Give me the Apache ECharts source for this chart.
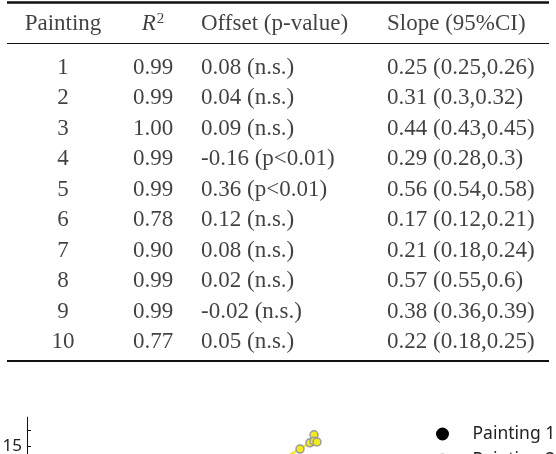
<!DOCTYPE html>
<html>
<head>
<meta charset="utf-8">
<script src="https://cdn.jsdelivr.net/npm/echarts@6/dist/echarts.min.js"></script>
<style>html,body{margin:0;padding:0;background:#fff;}#c{width:556px;height:454px;}</style>
</head>
<body>
<div id="c"></div>
<script>
// ---- table data ----
const headers = ['Painting', 'R2', 'Offset (p-value)', 'Slope (95%CI)'];
const paintingIds = ['1', '2', '3', '4', '5', '6', '7', '8', '9', '10'];
const r2Values = ['0.99', '0.99', '1.00', '0.99', '0.99', '0.78', '0.90', '0.99', '0.99', '0.77'];
const offsetValues = ['0.08 (n.s.)', '0.04 (n.s.)', '0.09 (n.s.)', '-0.16 (p<0.01)', '0.36 (p<0.01)',
  '0.12 (n.s.)', '0.08 (n.s.)', '0.02 (n.s.)', '-0.02 (n.s.)', '0.05 (n.s.)'];
const slopeValues = ['0.25 (0.25,0.26)', '0.31 (0.3,0.32)', '0.44 (0.43,0.45)', '0.29 (0.28,0.3)', '0.56 (0.54,0.58)',
  '0.17 (0.12,0.21)', '0.21 (0.18,0.24)', '0.57 (0.55,0.6)', '0.38 (0.36,0.39)', '0.22 (0.18,0.25)'];

// ---- scatter plot data (partially visible) ----
const legendNames = ['Painting 1', 'Painting 2', 'Painting 3', 'Painting 4', 'Painting 5',
  'Painting 6', 'Painting 7', 'Painting 8', 'Painting 9', 'Painting 10'];
const p10X = [7.175, 7.075, 7.175, 7.25, 6.825];
const p10Y = [15.7, 15.2, 15.3, 15.25, 14.81];
const p10FitX = [6.3, 7.175];
const p10FitY = [14.02, 15.375];
const yTickValues = [14, 15, 16];
const yLabelValues = [15];

// ---- layout (not data) ----
const colAnchor = [56, 146, 194, 380];
const colPos = ['inside', 'inside', 'right', 'right'];
const headerRow = -0.4456;
const rules = [{v: -1.152, w: 2.5}, {v: 0.1786, w: 1.2}, {v: 10.626, w: 2.2}];
const serif = 'Liberation Serif';
const sans = 'Noto Sans';
const colors = ['#000000', '#dcdcdc', '#b0b0b0', '#808080', '#4c72b0', '#55a868', '#c44e52', '#8172b2', '#ccb974', '#f2ea1c'];

const columns = [paintingIds, r2Values, offsetValues, slopeValues];
const tableSeries = columns.map((col, ci) => {
  const data = [[colAnchor[ci], headerRow, headers[ci], 1]];
  col.forEach((t, ri) => data.push([colAnchor[ci], ri + 1, t, 0]));
  const s = {
    type: 'scatter', xAxisIndex: 0, yAxisIndex: 0, symbolSize: 0, silent: true,
    data: data,
    label: {
      show: true, position: colPos[ci], distance: 0,
      fontFamily: serif, fontSize: 23, color: '#111',
      formatter: p => (ci === 1 && p.value[3] === 1) ? '{it|R}{sup|2}' : p.value[2],
      rich: {
        it: {fontFamily: serif, fontSize: 23, fontStyle: 'italic', color: '#111'},
        sup: {fontFamily: serif, fontSize: 15, color: '#111', verticalAlign: 'top', padding: [0, 0, 10, 1]}
      }
    },
    emphasis: {disabled: true}
  };
  if (ci === 0) {
    s.markLine = {
      silent: true, symbol: 'none', label: {show: false},
      data: rules.map(r => ({yAxis: r.v, lineStyle: {color: '#111', width: r.w, type: 'solid'}}))
    };
  }
  return s;
});

const plotSeries = legendNames.map((n, i) => ({
  type: 'scatter', name: n, xAxisIndex: 1, yAxisIndex: 1,
  symbol: 'circle', symbolSize: 8,
  itemStyle: {color: colors[i], borderColor: i === 0 ? '#000' : '#999', borderWidth: 1.5, opacity: 1},
  data: i === 9 ? p10X.map((x, k) => [x, p10Y[k]]) : [],
  z: 5
}));
plotSeries.push({
  type: 'line', xAxisIndex: 1, yAxisIndex: 1, symbol: 'none', silent: true,
  data: p10FitX.map((x, k) => [x, p10FitY[k]]),
  lineStyle: {color: '#f2ea1c', width: 2.5}, z: 3
});

const chart = echarts.init(document.getElementById('c'), null, {renderer: 'canvas'});
chart.setOption({
  animation: false,
  backgroundColor: '#fff',
  grid: [
    {left: 7, right: 7, top: 0, height: 454, outerBoundsMode: 'none', containLabel: false},
    {left: 27, top: 417.2, width: 400, height: 268.8, outerBoundsMode: 'none', containLabel: false}
  ],
  xAxis: [
    {type: 'value', gridIndex: 0, min: 0, max: 542, show: false},
    {type: 'value', gridIndex: 1, min: 0, max: 10, show: false}
  ],
  yAxis: [
    {type: 'value', gridIndex: 0, inverse: true, min: -1.234, max: 13.68, show: false},
    {
      type: 'value', gridIndex: 1, min: 0, max: 16.8, position: 'left',
      axisLine: {show: true, lineStyle: {color: '#111', width: 1}},
      axisTick: {show: true, inside: true, length: 4, customValues: yTickValues, lineStyle: {color: '#111'}},
      axisLabel: {show: true, customValues: yLabelValues, margin: 5, fontFamily: sans, fontSize: 17, color: '#222'},
      splitLine: {show: false}
    }
  ],
  legend: {
    data: legendNames, orient: 'vertical', left: 436, top: 425, height: 400, padding: 0,
    itemWidth: 50, itemHeight: 11, itemGap: 8, icon: 'circle',
    textStyle: {fontFamily: sans, fontSize: 17.5, color: '#222', width: 90, overflow: 'truncate', ellipsis: ''}
  },
  series: tableSeries.concat(plotSeries)
});
</script>
</body>
</html>
